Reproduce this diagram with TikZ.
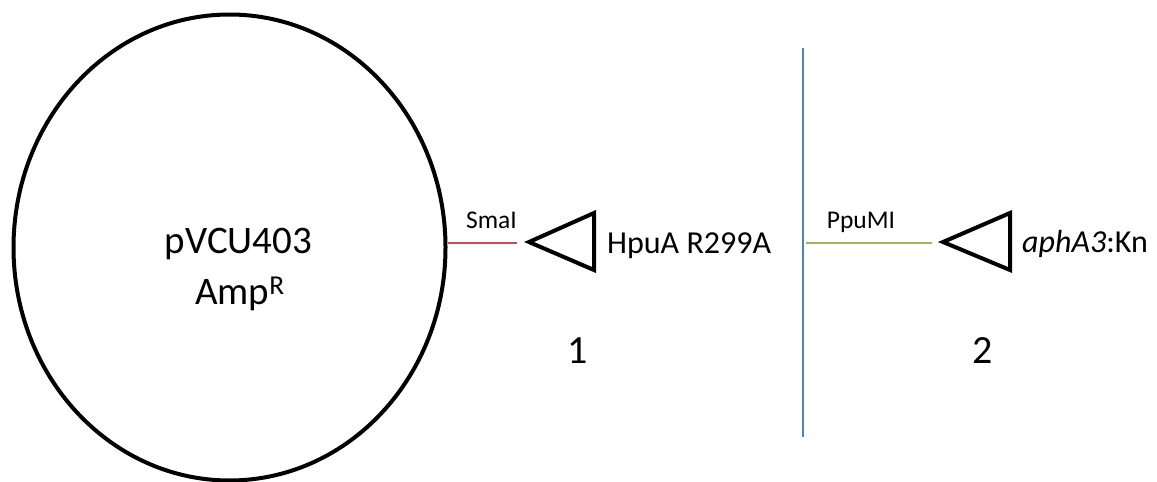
\documentclass[tikz,border=0pt]{standalone}
\usepackage{fontspec}
\setmainfont{Carlito}
\usetikzlibrary{shapes.geometric}
\definecolor{cutred}{RGB}{192,80,77}
\definecolor{cutgreen}{RGB}{155,187,89}
\definecolor{divblue}{RGB}{79,129,189}
\tikzset{
  plasmid/.style={draw, ellipse, line width=4pt, minimum width=432pt, minimum height=466pt, inner sep=0pt},
  insert/.style={draw, line width=4pt, line join=miter},
  site/.style={line width=2pt},
  sitelabel/.style={font=\fontsize{25.5}{30}\selectfont, inner sep=0pt, anchor=base},
  genelabel/.style={font=\fontsize{32}{38}\selectfont, inner sep=0pt, anchor=base west},
  numlabel/.style={font=\fontsize{40}{46}\selectfont, inner sep=0pt, anchor=base},
  mainlabel/.style={font=\fontsize{39}{46}\selectfont, inner sep=0pt, anchor=base},
}
\begin{document}
\begin{tikzpicture}[x=1pt,y=-1pt]
\useasboundingbox (0,0) rectangle (1157,482);
\node[plasmid] (pl) at (229.5,247.5) {};
\node[mainlabel] (name) at (238.5,253) {pVCU403};
\node[mainlabel] (amp) at (240,304) {Amp\textsuperscript{R}};
% insert 1
\coordinate (r1) at (517,243);
\draw[site, cutred] (pl.east |- r1) -- (r1);
\node[sitelabel] (smai) at (491.5,228) {SmaI};
\coordinate (t1a) at (529,242);
\coordinate (t1b) at (594,213);
\coordinate (t1c) at (594,270);
\draw[insert] (t1a) -- (t1b) -- (t1c) -- cycle;
\node[genelabel] (hpua) at (607,253) {HpuA R299A};
\node[numlabel] (n1) at (578,363) {1};
% divider
\coordinate (dtop) at (803,48);
\coordinate (dbot) at (803,437);
\draw[line width=2pt, divblue] (dtop) -- (dbot);
% insert 2
\coordinate (g0) at (806,243);
\coordinate (g1) at (932,243);
\draw[site, cutgreen] (g0) -- (g1);
\node[sitelabel] (ppumi) at (861,228) {PpuMI};
\coordinate (t2a) at (943,242);
\coordinate (t2b) at (1010,213);
\coordinate (t2c) at (1010,270);
\draw[insert] (t2a) -- (t2b) -- (t2c) -- cycle;
\node[genelabel] (aph) at (1022,252) {\textit{aphA3}:Kn};
\node[numlabel] (n2) at (983,363) {2};
\end{tikzpicture}
\end{document}
